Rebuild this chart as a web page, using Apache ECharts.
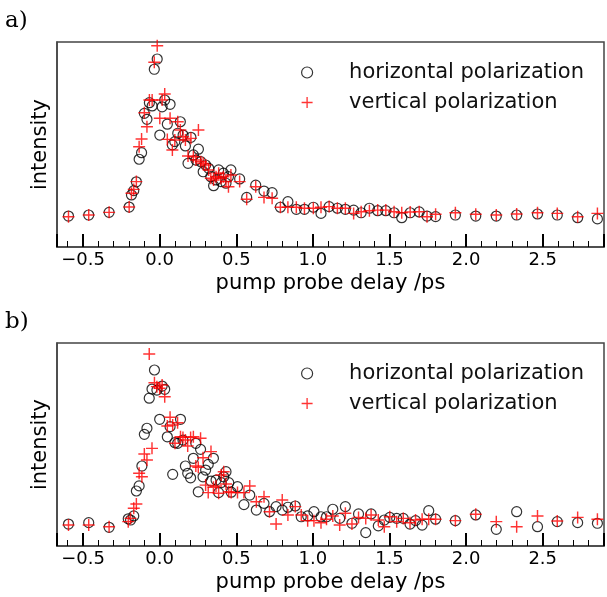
<!DOCTYPE html>
<html>
<head>
<meta charset="utf-8">
<script src="https://cdn.jsdelivr.net/npm/echarts@6/dist/echarts.min.js"></script>
<style>
    html, body { margin: 0; padding: 0; background: #fff; }
    #chart { width: 607px; height: 597px; }
</style>
</head>
<body>
<div id="chart"></div>
<script>
// a) 上图 延迟时间 /ps
let topDelay = [
    -0.595, -0.463, -0.33, -0.199, -0.184, -0.169, -0.152, -0.134, -0.118, -0.1,
    -0.083, -0.067, -0.049, -0.035, -0.016, 0.001, 0.016, 0.033, 0.05, 0.068,
    0.083, 0.099, 0.118, 0.135, 0.153, 0.168, 0.185, 0.204, 0.22, 0.237,
    0.253, 0.269, 0.284, 0.3, 0.32, 0.334, 0.352, 0.368, 0.385, 0.4,
    0.416, 0.433, 0.449, 0.465,
    0.522, 0.568, 0.627, 0.681, 0.734, 0.788, 0.837, 0.892, 0.945, 1.003,
    1.053, 1.106, 1.16, 1.212, 1.266, 1.315, 1.369, 1.423, 1.476, 1.53,
    1.58, 1.635, 1.694, 1.745, 1.801,
    1.93, 2.063, 2.197, 2.33, 2.466, 2.595, 2.728, 2.857
]
let topHorizontal = [
    15.1, 15.6, 16.9, 19.5, 25.4, 27.5, 31.8, 42.8, 46.0, 65.2,
    62.3, 70.4, 68.8, 86.7, 91.7, 54.6, 68.4, 71.7, 59.9, 69.6,
    49.8, 51.4, 55.5, 61.1, 54.6, 49.3, 40.8, 53.5, 44.9, 42.4,
    47.7, 41.6, 36.7, 40.0, 38.4, 34.3, 29.9, 32.7, 37.6, 31.9,
    36.0, 31.1, 34.3, 37.6,
    33.2, 24.2, 30.2, 27.3, 26.5, 19.4, 22.1, 18.4, 18.4, 19.4,
    16.4, 19.7, 18.9, 18.4, 18.0, 16.7, 18.9, 17.7, 17.7, 16.7,
    14.3, 16.7, 17.1, 15.1, 14.8,
    15.6, 15.1, 15.1, 15.6, 16.1, 15.6, 14.3, 13.7
]
let topVertical = [
    14.8, 15.6, 16.9, 19.5, 26.2, 28.1, 31.9, 48.9, 52.7, 65.5,
    58.7, 71.7, 71.7, 90.1, 98.2, 62.8, 71.7, 74.6, 52.5, 62.8,
    47.3, 52.2, 61.1, 57.1, 53.8, 52.2, 44.4, 53.0, 44.0, 42.4,
    57.1, 41.6, 40.8, 40.0, 37.6, 33.5, 32.7, 34.3, 36.0, 33.5,
    34.3, 31.9, 29.4, 35.1,
    31.9, 23.3, 29.4, 24.2, 23.8, 19.4, 19.4, 19.4, 18.9, 18.9,
    19.4, 19.7, 18.9, 18.9, 16.4, 17.2, 17.7, 18.0, 18.0, 17.2,
    16.7, 17.1, 17.2, 14.8, 16.0,
    16.7, 16.0, 15.6, 16.1, 16.7, 16.4, 14.8, 16.4
]

// b) 下图
let bottomDelay = [
    -0.595, -0.463, -0.33, -0.205, -0.19, -0.169, -0.152, -0.134, -0.116, -0.1,
    -0.083, -0.068, -0.05, -0.034, -0.018, 0.0, 0.016, 0.033, 0.05, 0.068,
    0.085, 0.1, 0.117, 0.136, 0.152, 0.168, 0.183, 0.202, 0.22, 0.236,
    0.252, 0.267, 0.283, 0.3, 0.317, 0.335, 0.351, 0.368, 0.385, 0.402,
    0.418, 0.433, 0.451, 0.467,
    0.508, 0.55, 0.588, 0.631, 0.681, 0.717, 0.76, 0.8, 0.837, 0.885,
    0.924, 0.966, 1.007, 1.053, 1.089, 1.13, 1.175, 1.212, 1.255, 1.298,
    1.345, 1.38, 1.427, 1.466, 1.502, 1.547, 1.59, 1.634, 1.67, 1.713,
    1.756, 1.801,
    1.93, 2.063, 2.197, 2.33, 2.466, 2.595, 2.728, 2.857
]
let bottomHorizontal = [
    10.8, 11.5, 9.2, 13.4, 12.8, 14.8, 27.1, 29.6, 39.4, 55.0,
    58.0, 72.8, 77.3, 86.7, 76.8, 62.4, 78.8, 77.2, 53.8, 58.8,
    35.3, 50.9, 50.6, 62.4, 52.2, 39.4, 35.8, 33.6, 43.2, 50.6,
    26.7, 47.6, 34.1, 37.4, 40.2, 32.0, 43.2, 32.5, 26.3, 31.2,
    34.1, 36.6, 31.2, 26.5,
    29.2, 20.4, 25.1, 17.7, 21.0, 16.9, 19.4, 17.7, 19.1, 19.7,
    14.4, 14.8, 16.9, 14.4, 14.4, 18.1, 13.6, 19.4, 11.2, 15.8,
    6.6, 15.8, 9.9, 12.8, 14.1, 13.6, 13.6, 10.8, 12.5, 10.3,
    17.4, 13.2,
    12.5, 15.3, 8.2, 16.9, 9.5, 12.0, 11.5, 11.2
]
let bottomVertical = [
    10.3, 10.3, 9.5, 12.0, 13.6, 18.6, 20.7, 35.8, 34.1, 45.3,
    42.4, 94.6, 48.1, 80.4, 78.5, 77.7, 79.3, 73.5, 59.1, 63.4,
    59.6, 50.6, 60.7, 53.8, 53.5, 52.2, 49.3, 53.5, 53.8, 39.4,
    38.8, 53.1, 43.5, 30.0, 26.3, 46.5, 28.9, 29.6, 26.0, 35.0,
    36.6, 30.5, 26.7, 26.3,
    26.3, 26.3, 29.6, 21.8, 24.3, 16.9, 10.8, 22.7, 15.3, 19.4,
    15.3, 12.5, 12.5, 11.5, 13.2, 14.8, 10.3, 16.1, 10.8, 14.1,
    13.6, 15.3, 12.8, 9.5, 14.4, 12.0, 13.6, 11.5, 12.8, 13.2,
    13.2, 13.2,
    12.5, 15.6, 12.0, 9.5, 14.8, 12.3, 14.1, 13.2
]

let panelLabels = ['a)', 'b)']
let seriesNames = ['horizontal polarization', 'vertical polarization']

let plusPath = 'path://M4.4,0H5.6V4.4H10V5.6H5.6V10H4.4V5.6H0V4.4H4.4Z'
let circleStyle = { color: 'rgba(0,0,0,0)', borderColor: '#000', borderWidth: 1.2 }
let plusStyle = { color: '#ff0000' }
let font = 'DejaVu Sans'

function pairs (xs, ys) {
    return xs.map(function (x, i) { return [x, ys[i]] })
}

// 刻度标签只在 0.5 的整数倍处显示
function tickLabel (v) {
    if (Math.abs(v * 2 - Math.round(v * 2)) > 1e-6) return ''
    return v.toFixed(1).replace('-', '\u2212')
}

let gridTops = [42, 343]
let gridHeights = [205, 203]
let legendTops = [57, 358]

let grids = [], xAxes = [], yAxes = [], legends = [], titles = []
for (let i = 0; i < 2; i++) {
    grids.push({
        left: 57, top: gridTops[i], width: 553, height: gridHeights[i],
        show: true, borderColor: '#444', borderWidth: 1.5
    })
    xAxes.push({
        gridIndex: i, type: 'value', min: -0.67, max: 2.9, splitNumber: 7,
        axisLine: { onZero: false, lineStyle: { color: '#444', width: 1.5 } },
        axisTick: { inside: true, length: 13, lineStyle: { color: '#000', width: 2 } },
        minorTick: { show: true, splitNumber: 5, length: 6, lineStyle: { color: '#000', width: 1 } },
        splitLine: { show: false },
        axisLabel: { fontSize: 18, fontFamily: font, color: '#000', margin: 4, formatter: tickLabel },
        name: 'pump probe delay /ps', nameLocation: 'middle', nameGap: 26,
        nameTextStyle: { fontSize: 21, fontFamily: font, color: '#000' }
    })
    yAxes.push({
        gridIndex: i, type: 'value', min: 0, max: 100,
        axisLine: { show: true, onZero: false, lineStyle: { color: '#444', width: 1.5 } },
        axisTick: { show: false },
        axisLabel: { show: false },
        splitLine: { show: false },
        name: 'intensity', nameLocation: 'middle', nameGap: 6,
        nameTextStyle: { fontSize: 21, fontFamily: font, color: '#000' }
    })
    legends.push({
        orient: 'vertical', left: 296, top: legendTops[i],
        itemWidth: 74, itemHeight: 11, itemGap: 9,
        textStyle: { fontSize: 21, fontFamily: font, color: '#111', lineHeight: 21 },
        data: [
            { name: seriesNames[0], icon: 'circle', itemStyle: circleStyle },
            { name: seriesNames[1], icon: plusPath, itemStyle: plusStyle }
        ]
    })
    titles.push({
        text: panelLabels[i], left: 5, top: gridTops[i] - 32, padding: 0,
        textStyle: { fontFamily: 'DejaVu Serif', fontSize: 23, fontWeight: 'normal', color: '#000' }
    })
}

let panels = [
    [topDelay, topHorizontal, topVertical],
    [bottomDelay, bottomHorizontal, bottomVertical]
]
let series = []
panels.forEach(function (p, i) {
    series.push({
        name: seriesNames[0], type: 'scatter', xAxisIndex: i, yAxisIndex: i,
        symbol: 'circle', symbolSize: 10, itemStyle: circleStyle,
        emphasis: { disabled: true }, data: pairs(p[0], p[1])
    })
    series.push({
        name: seriesNames[1], type: 'scatter', xAxisIndex: i, yAxisIndex: i,
        symbol: plusPath, symbolSize: 12, itemStyle: plusStyle,
        emphasis: { disabled: true }, data: pairs(p[0], p[2])
    })
})

let chart = echarts.init(document.getElementById('chart'))
chart.setOption({
    animation: false,
    backgroundColor: '#fff',
    title: titles,
    legend: legends,
    grid: grids,
    xAxis: xAxes,
    yAxis: yAxes,
    series: series
})
</script>
</body>
</html>
